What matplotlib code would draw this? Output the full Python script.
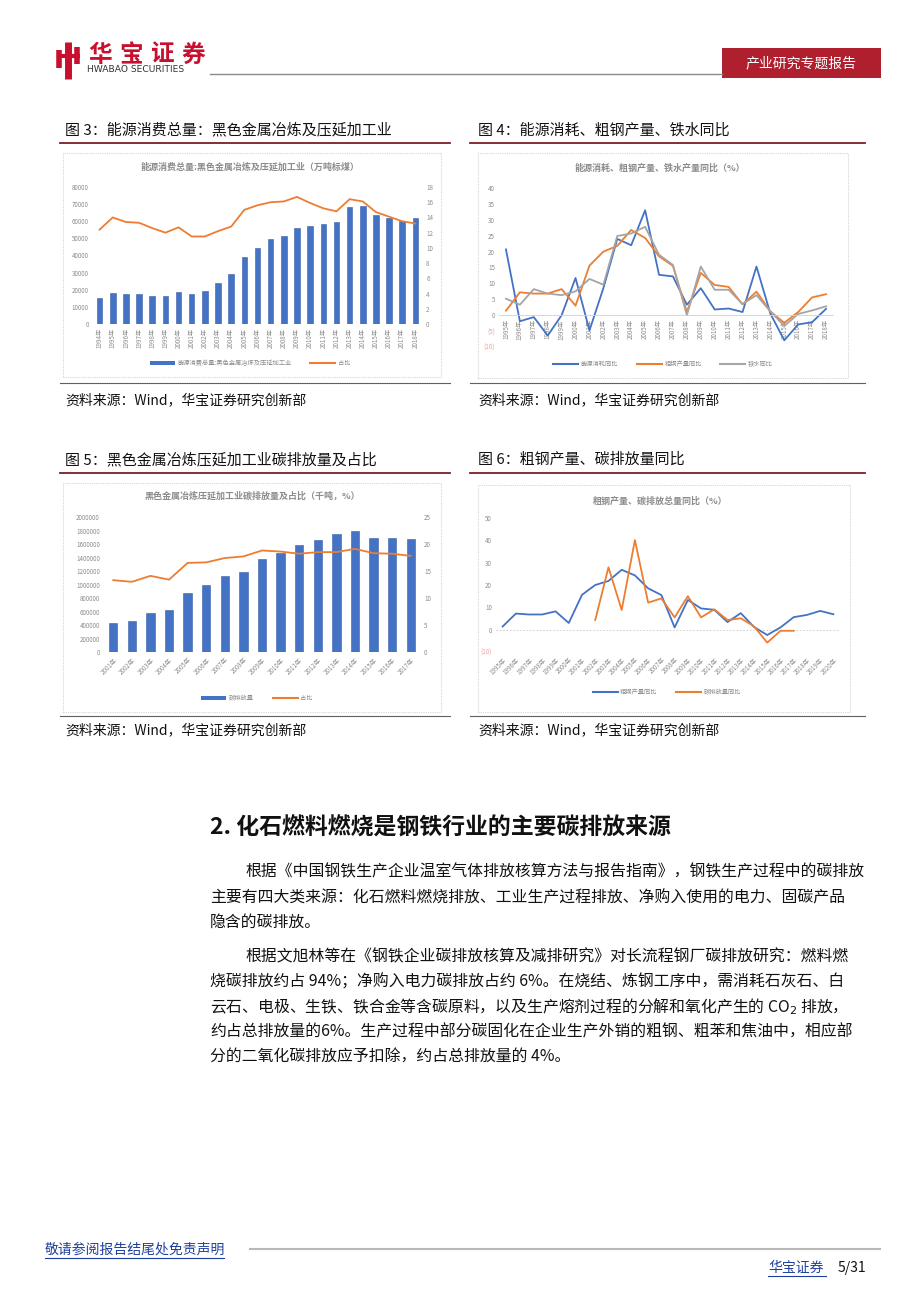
import matplotlib
matplotlib.use('Agg')
import matplotlib.pyplot as plt
from matplotlib.lines import Line2D
from matplotlib.patches import Rectangle, Patch

plt.rcParams['font.family'] = ['Noto Sans CJK SC', 'DejaVu Sans']
plt.rcParams['axes.unicode_minus'] = False

# ---- data ----
years_1 = [f'{y}年' for y in range(1994, 2019)]
energy_total = [15000, 18200, 17700, 17700, 16500, 16500, 18400, 17700, 19000, 23900,
                29300, 39200, 44300, 49900, 51500, 56100, 57100, 58400, 59400, 68300,
                68700, 63700, 61700, 60400, 62100]
energy_share = [12.4, 14.0, 13.4, 13.3, 12.6, 12.0, 12.7, 11.5, 11.5, 12.2, 12.8, 15.0,
                15.6, 16.0, 16.1, 16.7, 15.9, 15.2, 14.8, 16.4, 16.1, 14.7, 14.1, 13.5, 13.2]

years_2 = [f'{y}年' for y in range(1995, 2019)]
energy_yoy = [20.7, -1.9, -0.6, -6.4, 0.0, 11.7, -4.8, 8.5, 24.0, 22.0, 33.0, 12.7,
              12.2, 3.3, 8.5, 1.8, 2.1, 1.0, 15.3, 0.5, -7.9, -2.9, -2.2, 2.0]
iron_yoy = [5.2, 3.3, 8.2, 6.8, 6.3, 7.5, 11.4, 9.6, 24.9, 25.7, 27.8, 19.0,
            15.8, 0.0, 15.3, 8.0, 8.0, 3.5, 6.3, 1.2, -3.4, 0.4, 1.5, 2.8]

years_3 = [f'{y}年' for y in range(2001, 2018)]
emission = [430000, 454000, 578000, 627000, 874000, 993000, 1131000, 1190000, 1383000,
            1467000, 1590000, 1664000, 1753000, 1798000, 1689000, 1684000, 1674000]
emission_share = [13.3, 13.0, 14.1, 13.4, 16.5, 16.6, 17.4, 17.7, 18.8, 18.6, 18.2,
                  18.5, 18.5, 19.1, 18.3, 18.2, 17.8]

years_4 = [f'{y}年' for y in range(1995, 2021)]
steel_yoy = [1.4, 7.2, 6.8, 6.8, 8.2, 3.0, 15.6, 20.0, 21.8, 26.8, 24.3, 18.5, 15.5,
             1.0, 13.3, 9.5, 8.9, 3.4, 7.4, 1.2, -2.4, 1.0, 5.6, 6.6, 8.4, 6.9]
emission_yoy = [4.3, 27.9, 8.8, 40.1, 12.1, 14.0, 5.5, 15.0, 5.5, 9.1, 4.3, 5.1,
                1.5, -5.8, -0.5, -0.5]   # 2002-2017

BLUE = '#4472C4'
ORANGE = '#ED7D31'
GREY = '#A5A5A5'
TICK = '#8C8C8C'
RED = '#B01F2E'

W, H = 920, 1301
fig = plt.figure(figsize=(W / 100, H / 100), dpi=100)


def fx(x):
    return x / W


def fy(y):
    return 1 - y / H


def rect(x0, y0, x1, y1):
    return [fx(x0), fy(y1), (x1 - x0) / W, (y1 - y0) / H]


def hline(x0, x1, y, color, lw, ls='-'):
    fig.add_artist(Line2D([fx(x0), fx(x1)], [fy(y), fy(y)], color=color, lw=lw, ls=ls,
                          transform=fig.transFigure))


def frame(x0, y0, x1, y1):
    fig.add_artist(Rectangle((fx(x0), fy(y1)), (x1 - x0) / W, (y1 - y0) / H,
                             fill=False, ec='#D5D5D5', lw=0.8, ls=(0, (1, 1)),
                             transform=fig.transFigure))


def text(x, y, s, **kw):
    kw.setdefault('va', 'center')
    return fig.text(fx(x), fy(y), s, **kw)


def style_axis(ax, ylim, yticks, ylabels=None):
    ax.set_ylim(*ylim)
    ax.set_yticks(list(yticks))
    if ylabels is None:
        ylabels = [str(v) for v in yticks]
    ax.set_yticklabels(ylabels)
    for s in ax.spines.values():
        s.set_visible(False)
    ax.tick_params(length=0, labelsize=4.5, colors=TICK, pad=3)
    ax.patch.set_alpha(0)


def neg_fmt(v):
    return f'({abs(v)})' if v < 0 else str(v)


def legend(handles, labels, x, y, spacing=3.0):
    fig.legend(handles, labels, loc='center', bbox_to_anchor=(fx(x), fy(y)),
               ncol=len(handles), frameon=False, fontsize=4.5, labelcolor=TICK,
               handlelength=4, columnspacing=spacing, handletextpad=0.4)


# ---- header ----
logo = [((68, 68), (42, 79), 5), ((59, 59), (50, 68), 4), ((77, 77), (47, 64), 4),
        ((57, 80), (56, 56), 3)]
for xs, ys, w in logo:
    fig.add_artist(Line2D([fx(v) for v in xs], [fy(v) for v in ys], color='#C8102E',
                          lw=w, solid_capstyle='butt', transform=fig.transFigure))
for i, ch in enumerate('华宝证券'):
    text(88 + i * 31, 55, ch, fontsize=17, fontweight='bold', color='#C8102E')
text(87, 70, 'HWABAO SECURITIES', fontsize=6.6, color='#333333', family='DejaVu Sans')
hline(210, 722, 73.5, '#8A8A8A', 1.0)
fig.add_artist(Rectangle((fx(722), fy(78)), 159 / W, 30 / H, fc=RED, ec='none',
                         transform=fig.transFigure))
text(801, 63, '产业研究专题报告', fontsize=10, color='white', ha='center')

# ---- section captions and rules ----
for (x, y, s) in [(65, 130, '图 3：能源消费总量：黑色金属冶炼及压延加工业'),
                  (478, 130, '图 4：能源消耗、粗钢产量、铁水同比'),
                  (65, 460, '图 5：黑色金属冶炼压延加工业碳排放量及占比'),
                  (478, 460, '图 6：粗钢产量、碳排放量同比')]:
    text(x, y, s, fontsize=10.8, color='#111111')
for y in (143, 473):
    hline(60, 450, y, '#7A1F24', 1.3)
    hline(470, 865, y, '#7A1F24', 1.3)
for y in (383, 716):
    hline(60, 450, y, '#606060', 0.8)
    hline(470, 865, y, '#606060', 0.8)
for x, y in [(65, 400), (478, 400), (65, 730), (478, 730)]:
    text(x, y, '资料来源：Wind，华宝证券研究创新部', fontsize=10, color='#111111')

frame(63, 153, 441, 377)
frame(478, 153, 848, 378)
frame(63, 483, 441, 712)
frame(478, 485, 850, 712)

# ---- chart 3: energy consumption (bars) and share (line) ----
ax1 = fig.add_axes(rect(93, 187, 422, 324))
x1 = list(range(len(years_1)))
ax1.bar(x1, energy_total, width=0.42, color=BLUE, ec='#3A5FA8', lw=0.4)
ax1.set_xlim(-0.5, len(x1) - 0.5)
style_axis(ax1, (0, 80000), range(0, 80001, 10000))
ax1.set_xticks(x1)
ax1.set_xticklabels(years_1, rotation=90)
ax1b = ax1.twinx()
ax1b.plot(x1, energy_share, color=ORANGE, lw=1.3)
style_axis(ax1b, (0, 18), range(0, 19, 2))
text(250, 167, '能源消费总量:黑色金属冶炼及压延加工业（万吨标煤）', fontsize=6.5,
     color=TICK, ha='center', fontweight='bold')
legend([Patch(fc=BLUE), Line2D([], [], color=ORANGE, lw=1.5)],
       ['能源消费总量:黑色金属冶炼及压延加工业', '占比'], 250, 363)

# ---- chart 4: yoy of energy, steel, iron ----
ax2 = fig.add_axes(rect(499, 188, 833, 347))
x2 = list(range(len(years_2)))
ax2.plot(x2, energy_yoy, color=BLUE, lw=1.3)
ax2.plot(x2, steel_yoy[:len(years_2)], color=ORANGE, lw=1.3)
ax2.plot(x2, iron_yoy, color=GREY, lw=1.3)
ax2.set_xlim(-0.5, len(x2) - 0.5)
yt2 = list(range(-10, 41, 5))
style_axis(ax2, (-10, 40), yt2, [neg_fmt(v) for v in yt2])
for lab, v in zip(ax2.get_yticklabels(), yt2):
    if v < 0:
        lab.set_color('#E8A0A0')
ax2.spines['bottom'].set_visible(True)
ax2.spines['bottom'].set_position(('data', 0))
ax2.spines['bottom'].set_color('#D0D0D0')
ax2.spines['bottom'].set_linewidth(0.6)
ax2.set_xticks(x2)
ax2.set_xticklabels(years_2, rotation=90, va='top')
text(660, 168, '能源消耗、粗钢产量、铁水产量同比（%）', fontsize=6.5, color=TICK,
     ha='center', fontweight='bold')
legend([Line2D([], [], color=c, lw=1.5) for c in (BLUE, ORANGE, GREY)],
       ['能源消耗同比', '粗钢产量同比', '铁水同比'], 663, 364)

# ---- chart 5: carbon emission (bars) and share (line) ----
ax3 = fig.add_axes(rect(104, 517, 420, 652))
x3 = list(range(len(years_3)))
ax3.bar(x3, emission, width=0.45, color=BLUE, ec='#3A5FA8', lw=0.4)
ax3.set_xlim(-0.5, len(x3) - 0.5)
style_axis(ax3, (0, 2000000), range(0, 2000001, 200000))
ax3.set_xticks(x3)
ax3.set_xticklabels(years_3, rotation=45, ha='right', rotation_mode='anchor')
ax3b = ax3.twinx()
ax3b.plot(x3, emission_share, color=ORANGE, lw=1.3)
style_axis(ax3b, (0, 25), range(0, 26, 5))
text(252, 496, '黑色金属冶炼压延加工业碳排放量及占比（千吨，%）', fontsize=6.5,
     color=TICK, ha='center', fontweight='bold')
legend([Patch(fc=BLUE), Line2D([], [], color=ORANGE, lw=1.5)],
       ['碳排放量', '占比'], 257, 698)

# ---- chart 6: steel output and emission yoy ----
ax4 = fig.add_axes(rect(496, 518, 840, 652))
x4 = list(range(len(years_4)))
ax4.axhline(0, color='#C8C8C8', lw=0.6, ls=(0, (2, 2)))
ax4.plot(x4, steel_yoy, color=BLUE, lw=1.3)
ax4.plot(x4[7:7 + len(emission_yoy)], emission_yoy, color=ORANGE, lw=1.3)
ax4.set_xlim(-0.5, len(x4) - 0.5)
yt4 = list(range(-10, 51, 10))
style_axis(ax4, (-10, 50), yt4, [neg_fmt(v) for v in yt4])
for lab, v in zip(ax4.get_yticklabels(), yt4):
    if v < 0:
        lab.set_color('#E8A0A0')
ax4.set_xticks(x4)
ax4.set_xticklabels(years_4, rotation=45, ha='right', rotation_mode='anchor')
text(660, 501, '粗钢产量、碳排放总量同比（%）', fontsize=6.5, color=TICK,
     ha='center', fontweight='bold')
legend([Line2D([], [], color=c, lw=1.5) for c in (BLUE, ORANGE)],
       ['粗钢产量同比', '碳排放量同比'], 667, 692)

# ---- body text ----
text(210, 828, '2. 化石燃料燃烧是钢铁行业的主要碳排放来源', fontsize=16.5,
     fontweight='bold', color='#111111')
body = [
    (245, 872, '根据《中国钢铁生产企业温室气体排放核算方法与报告指南》，钢铁生产过程中的碳排放'),
    (210, 898, '主要有四大类来源：化石燃料燃烧排放、工业生产过程排放、净购入使用的电力、固碳产品'),
    (210, 922, '隐含的碳排放。'),
    (245, 957, '根据文旭林等在《钢铁企业碳排放核算及减排研究》对长流程钢厂碳排放研究：燃料燃'),
    (210, 982, '烧碳排放约占 94%；净购入电力碳排放占约 6%。在烧结、炼钢工序中，需消耗石灰石、白'),
    (210, 1007, '云石、电极、生铁、铁合金等含碳原料，以及生产熔剂过程的分解和氧化产生的 CO$_2$ 排放，'),
    (210, 1032, '约占总排放量的6%。生产过程中部分碳固化在企业生产外销的粗钢、粗苯和焦油中，相应部'),
    (210, 1057, '分的二氧化碳排放应予扣除，约占总排放量的 4%。'),
]
for x, y, s in body:
    text(x, y, s, fontsize=11.4, color='#111111')

# ---- footer ----
text(45, 1250, '敬请参阅报告结尾处免责声明', fontsize=10, color='#1F3F9F')
hline(45, 224, 1258, '#1F3F9F', 0.8)
hline(250, 880, 1249, '#B8B8B8', 1.5)
text(768, 1268, '华宝证券', fontsize=10, color='#1F3F9F')
hline(768, 826, 1276, '#1F3F9F', 0.8)
text(838, 1268, '5/31', fontsize=10, color='#111111')

fig.savefig('out.png', dpi=100)
